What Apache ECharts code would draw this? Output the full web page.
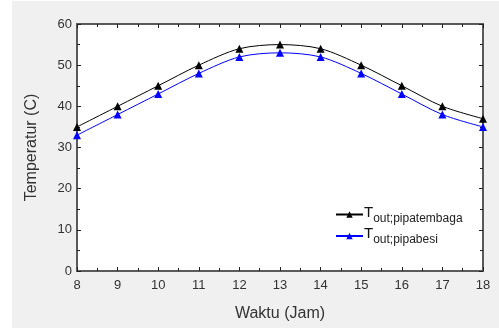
<!DOCTYPE html>
<html><head><meta charset="utf-8">
<script src="https://cdn.jsdelivr.net/npm/echarts@6/dist/echarts.min.js"></script>
<style>html,body{margin:0;padding:0;background:#fff;}#c{width:499px;height:329px;}</style>
</head><body><div id="c"></div>
<script>
var hours = [8, 9, 10, 11, 12, 13, 14, 15, 16, 17, 18];
var tembaga = [35, 40, 45, 50, 54, 55, 54, 50, 45, 40, 37];
var besi = [33, 38, 43, 48, 52, 53, 52, 48, 43, 38, 35];
var seriesNames = ['tembaga', 'besi'];
var legendSub = ['out;pipatembaga', 'out;pipabesi'];

var chart = echarts.init(document.getElementById('c'), null, {renderer: 'canvas'});
var font = 'Liberation Sans, Arial, sans-serif';
var axisCol = '#5a5a5a';
function pairs(v){ return hours.map(function(h,i){ return [h, v[i]]; }); }
var baseAxis = {
  axisLine: {show: true, onZero: false, lineStyle: {color: axisCol, width: 2}},
  axisTick: {show: true, inside: true, length: 4, lineStyle: {color: '#222', width: 1}},
  minorTick: {show: true, splitNumber: 2, length: 3, lineStyle: {color: '#222', width: 1}},
  splitLine: {show: false}
};
function ax(extra){ return Object.assign({}, JSON.parse(JSON.stringify(baseAxis)), extra); }
chart.setOption({
  animation: false,
  backgroundColor: '#fff',
  graphic: [{type: 'rect', z: -10, shape: {x: 12, y: 1, width: 487, height: 327}, style: {fill: '#f0f0f0'}},
            {type: 'rect', z: -9, shape: {x: 77, y: 24, width: 406, height: 247}, style: {fill: '#fff'}}],
  grid: {left: 77, top: 24, right: 16, bottom: 58},
  legend: {
    orient: 'vertical', left: 330, top: 200, itemWidth: 27, itemHeight: 8, itemGap: 2,
    data: seriesNames,
    formatter: function(n){ return '{t|T}{s|' + legendSub[seriesNames.indexOf(n)] + '}'; },
    textStyle: {padding: [0,0,0,-4], rich: {
      t: {fontSize: 15, fontFamily: font, color: '#111', padding: [0,0,4,0]},
      s: {fontSize: 12, fontFamily: font, color: '#222', padding: [8,0,0,0]}
    }}
  },
  xAxis: [
    ax({type: 'value', min: 8, max: 18, interval: 1, position: 'bottom',
      name: 'Waktu (Jam)', nameLocation: 'middle', nameGap: 35,
      nameTextStyle: {fontSize: 16, fontFamily: font, color: '#333'},
      axisLabel: {fontSize: 13, fontFamily: font, color: '#333', margin: 8}}),
    ax({type: 'value', min: 8, max: 18, interval: 1, position: 'top', axisLabel: {show: false}})
  ],
  yAxis: [
    ax({type: 'value', min: 0, max: 60, interval: 10, position: 'left',
      name: 'Temperatur (C)', nameLocation: 'middle', nameGap: 37, nameRotate: 90,
      nameTextStyle: {fontSize: 16, fontFamily: font, color: '#333'},
      axisLabel: {fontSize: 13, fontFamily: font, color: '#333', margin: 5}}),
    ax({type: 'value', min: 0, max: 60, interval: 10, position: 'right', axisLabel: {show: false}})
  ],
  series: [
    {name: 'tembaga', type: 'line', data: pairs(tembaga), smooth: 0.3,
     symbol: 'triangle', symbolSize: 8, itemStyle: {color: '#000'},
     lineStyle: {color: '#000', width: 1}},
    {name: 'besi', type: 'line', data: pairs(besi), smooth: 0.3,
     symbol: 'triangle', symbolSize: 8, itemStyle: {color: '#0000ff'},
     lineStyle: {color: '#0000ff', width: 1}}
  ]
});
</script></body></html>
